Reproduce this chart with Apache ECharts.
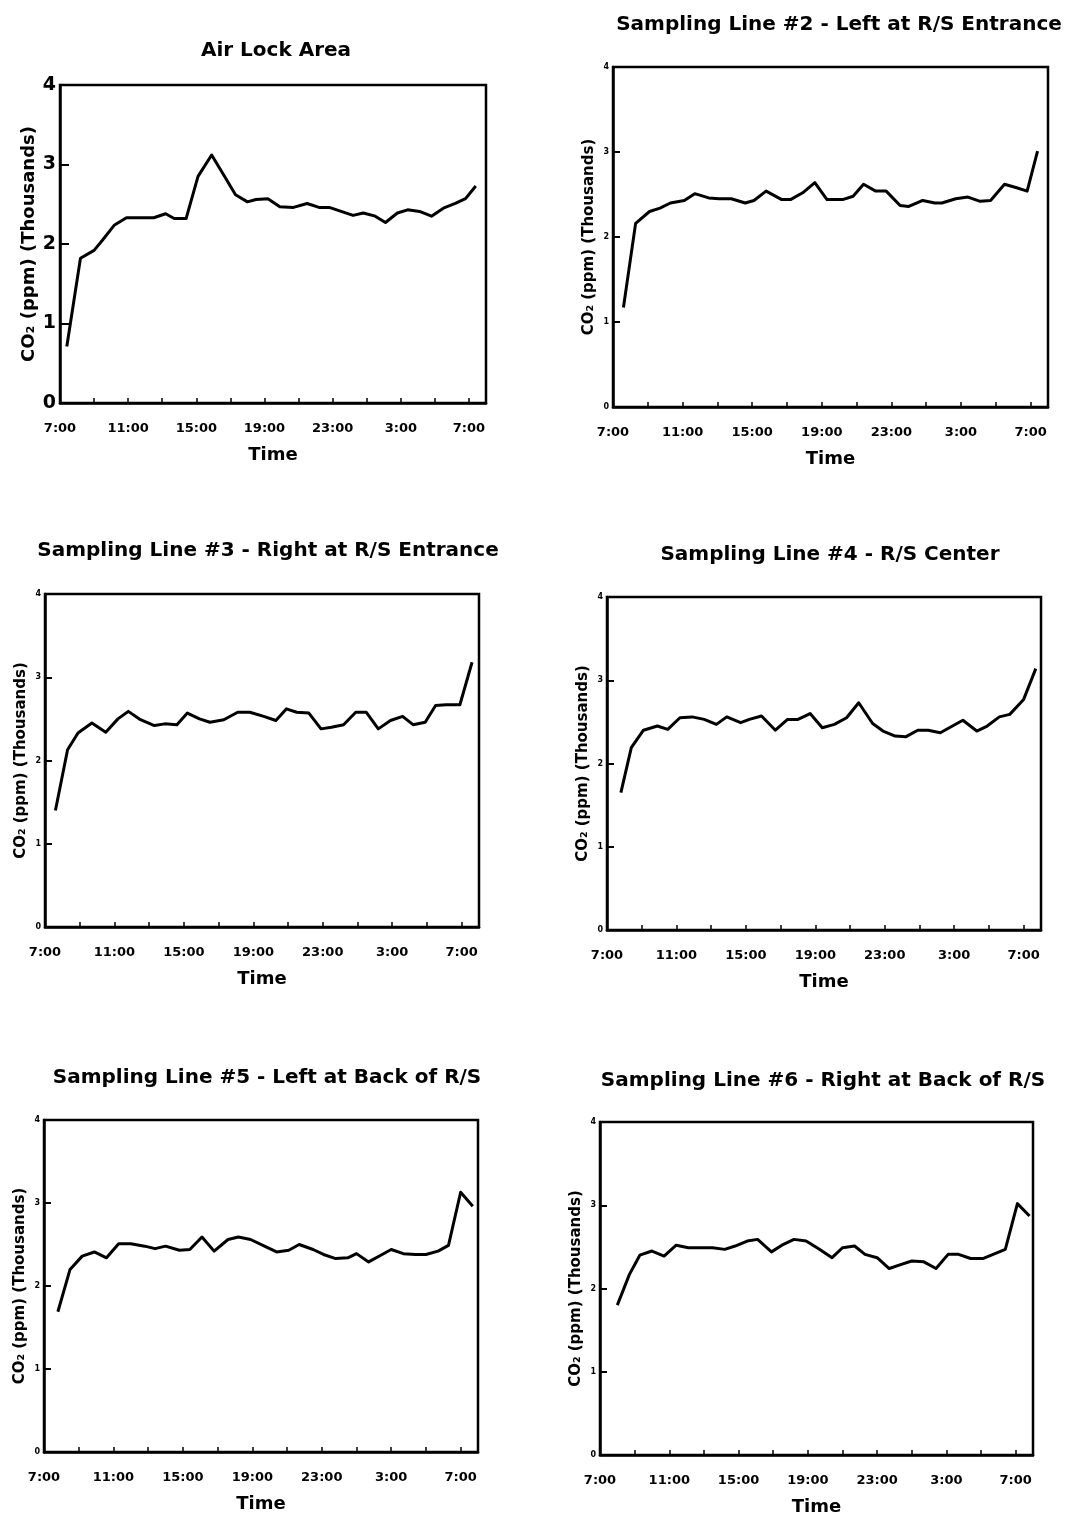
<!DOCTYPE html>
<html>
<head>
<meta charset="utf-8">
<script src="https://cdn.jsdelivr.net/npm/echarts@6/dist/echarts.min.js"></script>
<style>
html,body{margin:0;padding:0;background:#fff;}
#chart{width:1068px;height:1522px;}
</style>
</head>
<body>
<div id="chart"></div>
<script>
// ---- data (x = hours after 7:00, y = CO2 in thousands ppm) ----
const xTickLabels = ['7:00','11:00','15:00','19:00','23:00','3:00','7:00'];
const titles = [
  'Air Lock Area',
  'Sampling Line #2 - Left at R/S Entrance',
  'Sampling Line #3 - Right at R/S Entrance',
  'Sampling Line #4 - R/S Center',
  'Sampling Line #5 - Left at Back of R/S',
  'Sampling Line #6 - Right at Back of R/S'
];
const p1Hours = [0.4,1.2,2.0,2.5,3.2,3.9,4.7,5.5,6.2,6.7,7.4,8.1,8.9,9.6,10.3,11.0,11.5,12.2,12.9,13.7,14.5,15.2,15.8,16.5,17.2,17.8,18.5,19.1,19.8,20.4,21.1,21.8,22.5,23.2,23.8,24.4];
const p1CO2   = [0.71,1.82,1.92,2.05,2.24,2.33,2.33,2.33,2.38,2.32,2.32,2.85,3.12,2.87,2.62,2.53,2.56,2.57,2.47,2.46,2.51,2.46,2.46,2.41,2.36,2.39,2.35,2.27,2.39,2.43,2.41,2.35,2.45,2.51,2.57,2.73];
const p2Hours = [0.6,1.3,2.1,2.7,3.3,4.1,4.7,5.5,6.1,6.8,7.6,8.1,8.8,9.7,10.2,10.9,11.6,12.3,13.2,13.8,14.4,15.1,15.7,16.5,17.0,17.8,18.5,18.9,19.7,20.4,21.1,21.7,22.5,23.2,23.8,24.4];
const p2CO2   = [1.17,2.16,2.30,2.34,2.40,2.43,2.51,2.46,2.45,2.45,2.40,2.43,2.54,2.44,2.44,2.52,2.64,2.44,2.44,2.48,2.62,2.54,2.54,2.37,2.36,2.43,2.40,2.40,2.45,2.47,2.42,2.43,2.62,2.58,2.54,3.01];
const p3Hours = [0.6,1.3,1.9,2.7,3.5,4.2,4.8,5.5,6.3,6.9,7.6,8.2,8.9,9.5,10.3,11.1,11.8,12.6,13.3,13.9,14.5,15.2,15.9,16.5,17.2,17.9,18.5,19.2,19.9,20.6,21.2,21.9,22.5,23.1,23.9,24.6];
const p3CO2   = [1.40,2.13,2.33,2.45,2.34,2.50,2.59,2.49,2.42,2.44,2.43,2.57,2.50,2.46,2.49,2.58,2.58,2.53,2.48,2.62,2.58,2.57,2.38,2.40,2.43,2.58,2.58,2.38,2.48,2.53,2.43,2.46,2.66,2.67,2.67,3.18];
const p4Hours = [0.8,1.4,2.1,2.9,3.5,4.2,4.9,5.6,6.3,6.9,7.7,8.2,8.9,9.7,10.4,11.0,11.7,12.4,13.1,13.8,14.5,15.3,15.9,16.6,17.2,17.9,18.5,19.2,19.9,20.5,21.3,21.9,22.6,23.2,24.0,24.7];
const p4CO2   = [1.65,2.19,2.40,2.45,2.41,2.55,2.56,2.53,2.47,2.56,2.49,2.53,2.57,2.40,2.53,2.53,2.60,2.43,2.47,2.55,2.73,2.48,2.39,2.33,2.32,2.40,2.40,2.37,2.45,2.52,2.39,2.45,2.56,2.59,2.77,3.14];
const p5Hours = [0.8,1.5,2.2,2.9,3.6,4.3,5.0,5.8,6.4,7.0,7.8,8.4,9.1,9.8,10.6,11.2,11.9,12.7,13.4,14.1,14.7,15.5,16.1,16.8,17.5,18.0,18.7,19.4,20.0,20.7,21.4,22.0,22.7,23.3,24.0,24.7];
const p5CO2   = [1.69,2.20,2.36,2.41,2.34,2.51,2.51,2.48,2.45,2.48,2.43,2.44,2.59,2.42,2.56,2.59,2.56,2.48,2.41,2.43,2.50,2.44,2.38,2.33,2.34,2.39,2.29,2.37,2.44,2.39,2.38,2.38,2.42,2.49,3.13,2.96];
const p6Hours = [1.0,1.7,2.3,3.0,3.7,4.4,5.1,5.8,6.5,7.2,7.8,8.5,9.1,9.9,10.5,11.2,11.9,12.6,13.4,14.0,14.7,15.3,16.0,16.7,17.4,18.0,18.7,19.4,20.1,20.7,21.4,22.1,22.7,23.4,24.1,24.8];
const p6CO2   = [1.80,2.17,2.40,2.45,2.39,2.52,2.49,2.49,2.49,2.47,2.51,2.57,2.59,2.44,2.52,2.59,2.57,2.48,2.37,2.49,2.51,2.41,2.37,2.24,2.29,2.33,2.32,2.24,2.41,2.41,2.36,2.36,2.41,2.47,3.02,2.87];

const panelHours = [p1Hours,p2Hours,p3Hours,p4Hours,p5Hours,p6Hours];
const panelCO2 = [p1CO2,p2CO2,p3CO2,p4CO2,p5CO2,p6CO2];

// ---- layout ----
const FONT = 'DejaVu Sans, Verdana, sans-serif';
const grids = [
  {left:60,  top:85,   width:426, height:318},
  {left:613, top:67,   width:435, height:340},
  {left:45,  top:594,  width:434, height:333},
  {left:607, top:597,  width:434, height:333},
  {left:44,  top:1120, width:434, height:332},
  {left:600, top:1122, width:433, height:333}
];
const titlePos = [
  {x:271, y:36}, {x:834, y:10}, {x:263, y:536}, {x:825, y:540}, {x:262, y:1063}, {x:818, y:1066}
];

const option = {
  animation:false,
  backgroundColor:'#fff',
  title: titles.map((t,i)=>({
    text:t, left:titlePos[i].x, top:titlePos[i].y, textAlign:'center',
    textStyle:{fontFamily:FONT, fontSize:20, fontWeight:'bold', color:'#000'}
  })),
  grid: grids.map(g=>Object.assign({show:true, borderColor:'#000', borderWidth:2.5, backgroundColor:'transparent'}, g)),
  xAxis: grids.map((g,i)=>({
    type:'value', gridIndex:i, min:0, max:25, interval:2,
    axisLine:{show:true, onZero:false, lineStyle:{color:'#000', width:2.5}},
    axisTick:{show:true, inside:true, length:5, lineStyle:{color:'#000', width:1.5}},
    splitLine:{show:false},
    axisLabel:{
      fontFamily:FONT, fontSize:13, fontWeight:'bold', color:'#000', margin:19,
      formatter:v => (v % 4 === 0 && v/4 < xTickLabels.length) ? xTickLabels[v/4] : ''
    },
    name:'Time', nameLocation:'middle', nameGap:43,
    nameTextStyle:{fontFamily:FONT, fontSize:18, fontWeight:'bold', color:'#000'}
  })),
  yAxis: grids.map((g,i)=>({
    type:'value', gridIndex:i, min:0, max:4, interval:1,
    axisLine:{show:true, onZero:false, lineStyle:{color:'#000', width:2.5}},
    axisTick:{show:true, inside:true, length:i===0?9:7, lineStyle:{color:'#000', width:2}},
    splitLine:{show:false},
    axisLabel:{fontFamily:FONT, fontSize:i===0?19:8, fontWeight:'bold', color:'#000', margin:i===0?4:4},
    name:'CO₂ (ppm) (Thousands)', nameLocation:'middle', nameRotate:90, nameGap:i===0?22:16,
    nameTextStyle:{fontFamily:FONT, fontSize:i===0?18:15, fontWeight:'bold', color:'#000'}
  })),
  series: panelHours.map((hrs,i)=>({
    type:'line', xAxisIndex:i, yAxisIndex:i,
    data: hrs.map((h,k)=>[h, panelCO2[i][k]]),
    showSymbol:false, symbol:'none',
    lineStyle:{color:'#000', width:3, join:'round'}
  }))
};

const chart = echarts.init(document.getElementById('chart'), null, {renderer:'canvas'});
chart.setOption(option);
</script>
</body>
</html>
